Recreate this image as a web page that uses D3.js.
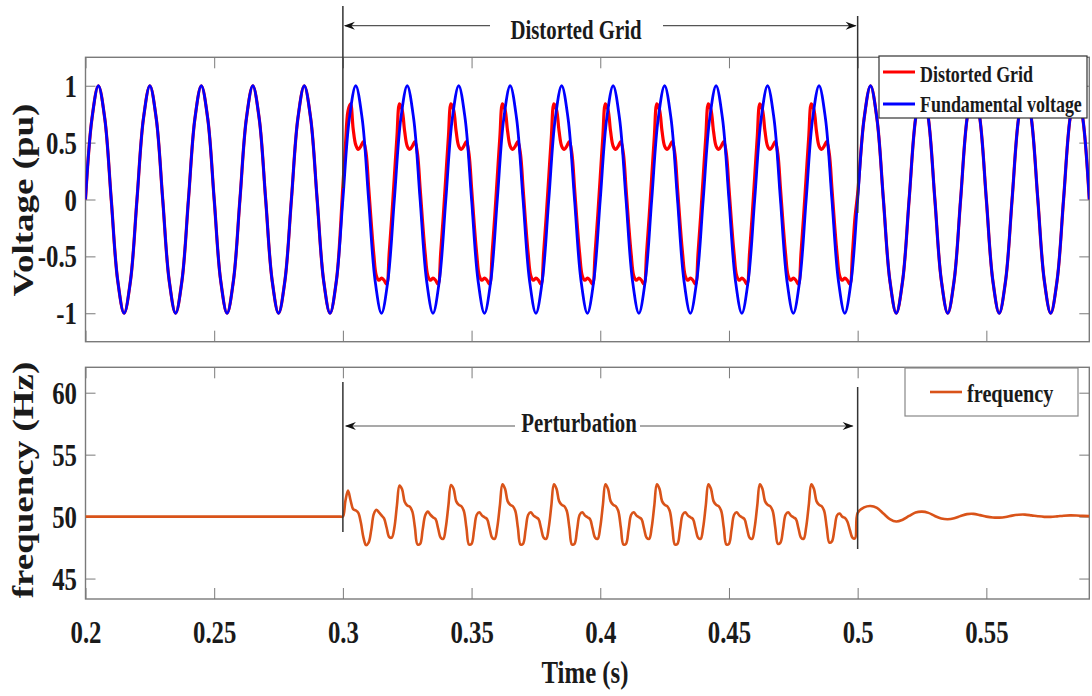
<!DOCTYPE html>
<html>
<head>
<meta charset="utf-8">
<script src="https://cdn.jsdelivr.net/npm/d3@7"></script>
<style>
body { margin: 0; background: #fff; }
svg text { font-family: "Liberation Serif", "Times New Roman", serif; font-weight: bold; fill: #1a1a1a; }
</style>
</head>
<body>
<svg id="chart" width="1092" height="696"></svg>
<script>
// ---- data ----
const timeTicks = [0.2, 0.25, 0.3, 0.35, 0.4, 0.45, 0.5, 0.55];
const voltTicks = [-1, -0.5, 0, 0.5, 1];
const freqTicks = [45, 50, 55, 60];

// fundamental voltage (pu), sampled every 2.5 ms from 0.2 s
const fundStart = 0.2, fundStep = 0.0025;
const fundamental = [
  0, 0.71, 1, 0.71, 0, -0.71, -1, -0.71,
  0, 0.71, 1, 0.71, 0, -0.71, -1, -0.71,
  0, 0.71, 1, 0.71, 0, -0.71, -1, -0.71,
  0, 0.71, 1, 0.71, 0, -0.71, -1, -0.71,
  0, 0.71, 1, 0.71, 0, -0.71, -1, -0.71,
  0, 0.71, 1, 0.71, 0, -0.71, -1, -0.71,
  0, 0.71, 1, 0.71, 0, -0.71, -1, -0.71,
  0, 0.71, 1, 0.71, 0, -0.71, -1, -0.71,
  0, 0.71, 1, 0.71, 0, -0.71, -1, -0.71,
  0, 0.71, 1, 0.71, 0, -0.71, -1, -0.71,
  0, 0.71, 1, 0.71, 0, -0.71, -1, -0.71,
  0, 0.71, 1, 0.71, 0, -0.71, -1, -0.71,
  0, 0.71, 1, 0.71, 0, -0.71, -1, -0.71,
  0, 0.71, 1, 0.71, 0, -0.71, -1, -0.71,
  0, 0.71, 1, 0.71, 0, -0.71, -1, -0.71,
  0, 0.71, 1, 0.71, 0, -0.71, -1, -0.71,
  0, 0.71, 1, 0.71, 0, -0.71, -1, -0.71,
  0, 0.71, 1, 0.71, 0, -0.71, -1, -0.71,
  0, 0.71, 1, 0.71, 0, -0.71, -1, -0.71,
  0, 0.71, 1, 0.71, 0
];

// distorted grid voltage (pu) between 0.3 s and 0.5 s, every 1 ms
const distStart = 0.3, distStep = 0.001;
const distorted = [
  0.12, 0.48, 0.78, 0.84, 0.62, 0.48, 0.44, 0.47, 0.51, 0.41, 0.11, -0.2, -0.48, -0.67, -0.71, -0.69, -0.71, -0.745, -0.47, -0.15,
  0.2, 0.55, 0.84, 0.79, 0.6, 0.47, 0.44, 0.47, 0.51, 0.40, 0.10, -0.21, -0.48, -0.67, -0.71, -0.69, -0.71, -0.745, -0.47, -0.15,
  0.2, 0.55, 0.84, 0.79, 0.6, 0.47, 0.44, 0.47, 0.51, 0.40, 0.10, -0.21, -0.48, -0.67, -0.71, -0.69, -0.71, -0.745, -0.47, -0.15,
  0.2, 0.55, 0.84, 0.79, 0.6, 0.47, 0.44, 0.47, 0.51, 0.40, 0.10, -0.21, -0.48, -0.67, -0.71, -0.69, -0.71, -0.745, -0.47, -0.15,
  0.2, 0.55, 0.84, 0.79, 0.6, 0.47, 0.44, 0.47, 0.51, 0.40, 0.10, -0.21, -0.48, -0.67, -0.71, -0.69, -0.71, -0.745, -0.47, -0.15,
  0.2, 0.55, 0.84, 0.79, 0.6, 0.47, 0.44, 0.47, 0.51, 0.40, 0.10, -0.21, -0.48, -0.67, -0.71, -0.69, -0.71, -0.745, -0.47, -0.15,
  0.2, 0.55, 0.84, 0.79, 0.6, 0.47, 0.44, 0.47, 0.51, 0.40, 0.10, -0.21, -0.48, -0.67, -0.71, -0.69, -0.71, -0.745, -0.47, -0.15,
  0.2, 0.55, 0.84, 0.79, 0.6, 0.47, 0.44, 0.47, 0.51, 0.40, 0.10, -0.21, -0.48, -0.67, -0.71, -0.69, -0.71, -0.745, -0.47, -0.15,
  0.2, 0.55, 0.84, 0.79, 0.6, 0.47, 0.44, 0.47, 0.51, 0.40, 0.10, -0.21, -0.48, -0.67, -0.71, -0.69, -0.71, -0.745, -0.47, -0.15,
  0.2, 0.55, 0.84, 0.79, 0.6, 0.47, 0.44, 0.47, 0.51, 0.40, 0.10, -0.21, -0.48, -0.67, -0.71, -0.69, -0.71, -0.745, -0.47, -0.15,
  0.05
];

// frequency (Hz): steady value before the disturbance
const freqSteadyTimes = [0.2, 0.299];
const freqSteady = [50.0, 50.0];
// frequency during the perturbation, every 1 ms from 0.3 s to 0.5 s
const freqPertStart = 0.3, freqPertStep = 0.001;
const freqPert = [
  50.0, 51.3, 52.1, 51.3, 50.6, 50.5, 50.3, 49.5, 48.3, 47.7, 47.9, 48.9, 50.2, 50.55, 50.35, 50.1, 49.85, 49.1, 48.35, 48.3,
  49.1, 50.9, 52.5, 52.2, 51.2, 50.9, 50.8, 50.4, 49.1, 47.75, 47.8, 48.95, 50.1, 50.4, 50.15, 49.95, 49.8, 49.05, 48.3, 48.2,
  49.15, 50.9, 52.55, 52.25, 51.25, 50.95, 50.85, 50.45, 49.1, 47.75, 47.8, 48.95, 50.15, 50.35, 50.1, 49.95, 49.8, 49.05, 48.3, 48.2,
  49.15, 50.9, 52.6, 52.25, 51.25, 50.95, 50.85, 50.45, 49.1, 47.75, 47.8, 48.95, 50.15, 50.35, 50.1, 49.95, 49.8, 49.05, 48.3, 48.2,
  49.15, 50.9, 52.6, 52.25, 51.25, 50.95, 50.85, 50.45, 49.1, 47.75, 47.8, 48.95, 50.15, 50.35, 50.1, 49.95, 49.8, 49.05, 48.3, 48.2,
  49.15, 50.9, 52.6, 52.25, 51.25, 50.95, 50.85, 50.45, 49.1, 47.75, 47.8, 48.95, 50.15, 50.35, 50.1, 49.95, 49.8, 49.05, 48.3, 48.2,
  49.15, 50.9, 52.6, 52.25, 51.25, 50.95, 50.85, 50.45, 49.1, 47.75, 47.8, 48.95, 50.15, 50.35, 50.1, 49.95, 49.8, 49.05, 48.3, 48.2,
  49.15, 50.9, 52.6, 52.25, 51.25, 50.95, 50.85, 50.45, 49.1, 47.75, 47.8, 48.95, 50.15, 50.35, 50.1, 49.95, 49.8, 49.05, 48.3, 48.2,
  49.15, 50.9, 52.6, 52.25, 51.25, 50.95, 50.85, 50.45, 49.1, 47.8, 47.9, 48.95, 50.15, 50.35, 50.1, 49.95, 49.8, 49.05, 48.3, 48.2,
  49.15, 50.9, 52.6, 52.25, 51.25, 50.95, 50.85, 50.45, 49.1, 47.9, 48.0, 49.0, 50.1, 50.25, 50.0, 49.9, 49.6, 48.9, 48.3, 48.25,
  50.3
];
// frequency recovery after 0.5 s, every 2.5 ms
const freqRecStart = 0.5025, freqRecStep = 0.0025;
const freqRec = [
  50.75, 50.86, 50.7, 50.25, 49.8, 49.6, 49.75, 50.05, 50.33, 50.4, 50.3, 50.05,
  49.85, 49.79, 49.87, 50.05, 50.2, 50.22, 50.12, 50.0, 49.93, 49.92, 49.97, 50.08,
  50.15, 50.16, 50.1, 50.03, 49.98, 49.98, 50.02, 50.07, 50.1, 50.09, 50.06, 50.04
];

// ---- layout ----
const svg = d3.select("#chart");
const left = 85.5, right = 1089.3;
const topV = 57.3, botV = 341.7;
const topF = 367.3, botF = 599;

let x = d3.scaleLinear().domain([0.2, 0.59]).range([left, right]);
let yV = d3.scaleLinear().domain([-1.25, 1.25]).range([botV, topV]);
let yF = d3.scaleLinear().domain([43.35, 62.05]).range([botF, topF]);

function sampled(start, step, vals) {
    return vals.map((v, i) => [start + i * step, v]);
}

let fundPts = sampled(fundStart, fundStep, fundamental);
let distPts = sampled(distStart, distStep, distorted);
let distEnd = distStart + (distorted.length - 1) * distStep;
let redPts = fundPts.filter(d => d[0] < distStart - 1e-9)
    .concat(distPts)
    .concat(fundPts.filter(d => d[0] > distEnd + 1e-9));

let freqPts = freqSteadyTimes.map((t, i) => [t, freqSteady[i]])
    .concat(sampled(freqPertStart, freqPertStep, freqPert))
    .concat(sampled(freqRecStart, freqRecStep, freqRec));

const boxColor = "#7a7a7a";

function styleAxis(g) {
    g.select(".domain").remove();
    g.selectAll(".tick line").attr("stroke", boxColor).attr("stroke-width", 1);
    g.attr("font-family", null).attr("font-size", null);
}

function drawFrame(yScale, yTicks, yTop, yBot, showX) {
    let noLabel = () => "";
    svg.append("g").attr("transform", `translate(0,${yTop})`)
        .call(d3.axisTop(x).tickValues(timeTicks).tickSize(-11).tickFormat(noLabel))
        .call(styleAxis);
    let gb = svg.append("g").attr("transform", `translate(0,${yBot})`)
        .call(d3.axisBottom(x).tickValues(timeTicks).tickSize(-11)
            .tickFormat(showX ? (d => String(d)) : noLabel))
        .call(styleAxis);
    gb.selectAll("text")
        .attr("y", null).attr("dy", null)
        .attr("font-size", 31)
        .attr("transform", "translate(0,44) scale(0.8,1)");
    svg.append("g").attr("transform", `translate(${right},0)`)
        .call(d3.axisRight(yScale).tickValues(yTicks).tickSize(-10).tickFormat(noLabel))
        .call(styleAxis);
    let gl = svg.append("g").attr("transform", `translate(${left},0)`)
        .call(d3.axisLeft(yScale).tickValues(yTicks).tickSize(-10).tickFormat(d => String(d)))
        .call(styleAxis);
    gl.selectAll("text")
        .attr("x", null).attr("dy", "0.34em")
        .attr("font-size", 31)
        .attr("transform", "translate(-8.5,0) scale(0.8,1)");
    svg.append("rect")
        .attr("x", left).attr("y", yTop)
        .attr("width", right - left).attr("height", yBot - yTop)
        .attr("fill", "none").attr("stroke", boxColor).attr("stroke-width", 1.4);
}

// clip paths
let defs = svg.append("defs");
defs.append("clipPath").attr("id", "clipV").append("rect")
    .attr("x", left).attr("y", topV).attr("width", right - left).attr("height", botV - topV);
defs.append("clipPath").attr("id", "clipF").append("rect")
    .attr("x", left).attr("y", topF).attr("width", right - left).attr("height", botF - topF);

drawFrame(yV, voltTicks, topV, botV, false);
drawFrame(yF, freqTicks, topF, botF, true);

// voltage curves
let vLine = d3.line().x(d => x(d[0])).y(d => yV(d[1])).curve(d3.curveCatmullRom.alpha(0.5));
let gV = svg.append("g").attr("clip-path", "url(#clipV)");
gV.append("path").attr("d", vLine(redPts))
    .attr("fill", "none").attr("stroke", "#ff0000").attr("stroke-width", 3.2);
gV.append("path").attr("d", vLine(fundPts))
    .attr("fill", "none").attr("stroke", "#0000ff").attr("stroke-width", 2.8);

// frequency curve
let fLine = d3.line().x(d => x(d[0])).y(d => yF(d[1])).curve(d3.curveCatmullRom.alpha(0.5));
svg.append("g").attr("clip-path", "url(#clipF)")
    .append("path").attr("d", fLine(freqPts))
    .attr("fill", "none").attr("stroke", "#D95319").attr("stroke-width", 2.6);

// horizontal text helper (figure text is horizontally condensed)
function label(str, px, py, size, anchor, sx) {
    return svg.append("text")
        .attr("text-anchor", anchor)
        .attr("font-size", size)
        .attr("transform", `translate(${px},${py}) scale(${sx},1)`)
        .text(str);
}

// axis titles
svg.append("text").attr("text-anchor", "middle").attr("font-size", 37)
    .attr("transform", "translate(33,200) rotate(-90) scale(1,0.8)")
    .text("Voltage (pu)");
svg.append("text").attr("text-anchor", "middle").attr("font-size", 37)
    .attr("transform", "translate(33,480) rotate(-90) scale(1,0.8)")
    .text("frequency (Hz)");
label("Time (s)", 585, 683, 31, "middle", 0.8);

// legends
let legV = svg.append("g");
legV.append("rect").attr("x", 879).attr("y", 56).attr("width", 208).attr("height", 62)
    .attr("fill", "#fff").attr("stroke", "#333").attr("stroke-width", 1.2);
legV.append("line").attr("x1", 883).attr("x2", 915).attr("y1", 72).attr("y2", 72)
    .attr("stroke", "#ff0000").attr("stroke-width", 3);
legV.append("line").attr("x1", 883).attr("x2", 915).attr("y1", 104).attr("y2", 104)
    .attr("stroke", "#0000ff").attr("stroke-width", 3);
label("Distorted Grid", 920, 82, 23, "start", 0.78);
label("Fundamental voltage", 920, 112, 23, "start", 0.78);

let legF = svg.append("g");
legF.append("rect").attr("x", 905).attr("y", 368).attr("width", 173).attr("height", 48)
    .attr("fill", "#fff").attr("stroke", "#888").attr("stroke-width", 1.2);
legF.append("line").attr("x1", 930).attr("x2", 962).attr("y1", 392).attr("y2", 392)
    .attr("stroke", "#D95319").attr("stroke-width", 2.6);
label("frequency", 967, 402, 26, "start", 0.78);

// annotations: event markers and span arrows
function arrowHead(tipX, tipY, dir) {
    // dir = -1 points left, +1 points right
    let p = d3.path();
    p.moveTo(tipX, tipY);
    p.lineTo(tipX - dir * 11, tipY - 4);
    p.lineTo(tipX - dir * 7.5, tipY);
    p.lineTo(tipX - dir * 11, tipY + 4);
    p.closePath();
    svg.append("path").attr("d", p.toString()).attr("fill", "#111");
}

function spanArrow(yA, x1, gapL, gapR, x2) {
    svg.append("line").attr("x1", x1 + 2).attr("x2", gapL).attr("y1", yA).attr("y2", yA)
        .attr("stroke", "#555").attr("stroke-width", 1.2);
    svg.append("line").attr("x1", gapR).attr("x2", x2 - 2).attr("y1", yA).attr("y2", yA)
        .attr("stroke", "#555").attr("stroke-width", 1.2);
    arrowHead(x1 + 1, yA, -1);
    arrowHead(x2 - 1, yA, 1);
}

function vMark(t, y1, y2) {
    svg.append("line").attr("x1", x(t)).attr("x2", x(t)).attr("y1", y1).attr("y2", y2)
        .attr("stroke", "#333").attr("stroke-width", 1.5);
}

vMark(0.3, 6, 188);
vMark(0.5, 16, 213);
spanArrow(25.7, x(0.3), 490, 663, x(0.5));
label("Distorted Grid", 576, 39, 27, "middle", 0.77);

vMark(0.3, 382, 532);
vMark(0.5, 387, 549);
spanArrow(426, x(0.3) + 1, 515, 640, x(0.5) - 3);
label("Perturbation", 579, 432, 27, "middle", 0.77);
</script>
</body>
</html>
